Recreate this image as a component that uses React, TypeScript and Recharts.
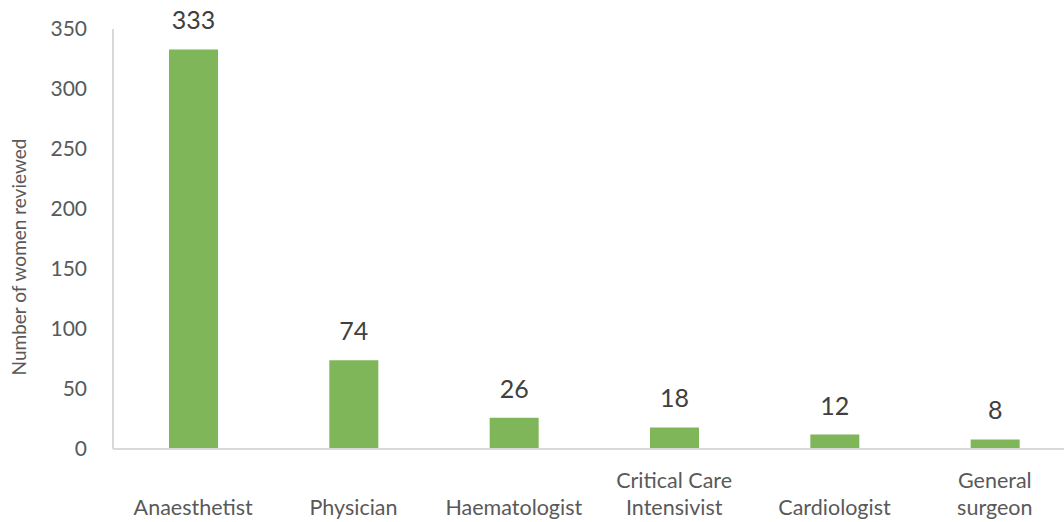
import { BarChart, Bar, XAxis, YAxis, LabelList, Label } from "recharts";

const specialties = [
  "Anaesthetist",
  "Physician",
  "Haematologist",
  "Critical Care\nIntensivist",
  "Cardiologist",
  "General\nsurgeon",
];
const womenReviewed = [333, 74, 26, 18, 12, 8];
const yTicks = [0, 50, 100, 150, 200, 250, 300, 350];

const data = specialties.map((name, i) => ({ name, value: womenReviewed[i] }));

const FONT = "Lato, 'Open Sans', sans-serif";

const CategoryTick = (props: any) => {
  const { x, y, payload } = props;
  const lines = String(payload.value).split("\n");
  const lineH = 27;
  return (
    <g transform={`translate(${x},${y})`}>
      {lines.map((line, i) => (
        <text
          key={i}
          x={0}
          y={50 - (lines.length - 1 - i) * lineH}
          textAnchor="middle"
          dominantBaseline="central"
          fill="#595959"
          fontSize={21.5}
          fontFamily={FONT}
        >
          {line}
        </text>
      ))}
    </g>
  );
};

const AxisTitle = () => (
  <text
    transform="translate(18,257) rotate(-90)"
    textAnchor="middle"
    dominantBaseline="central"
    fill="#595959"
    fontSize={19}
    fontFamily={FONT}
  >
    Number of women reviewed
  </text>
);

export default function App() {
  return (
    <div
      style={{
        position: "absolute",
        left: 0,
        top: 0,
        width: 1064,
        height: 522,
        overflow: "hidden",
        background: "#fff",
      }}
    >
      <BarChart
        width={1075}
        height={522}
        data={data}
        margin={{ top: 29, right: 0, bottom: 0, left: 0 }}
        barSize={49}
      >
        <XAxis
          dataKey="name"
          interval={0}
          height={73}
          tickLine={false}
          axisLine={{ stroke: "#d9d9d9", strokeWidth: 2 }}
          tick={<CategoryTick />}
        />
        <YAxis
          width={113}
          domain={[0, 350]}
          ticks={yTicks}
          tickLine={false}
          axisLine={{ stroke: "#d9d9d9", strokeWidth: 2 }}
          tickMargin={20}
          tick={{ fill: "#595959", fontSize: 21, fontFamily: FONT }}
        >
          <Label content={<AxisTitle />} />
        </YAxis>
        <Bar dataKey="value" fill="#7FB65A" isAnimationActive={false}>
          <LabelList
            dataKey="value"
            position="top"
            offset={20}
            fill="#404040"
            fontSize={25}
            fontFamily={FONT}
          />
        </Bar>
      </BarChart>
    </div>
  );
}
